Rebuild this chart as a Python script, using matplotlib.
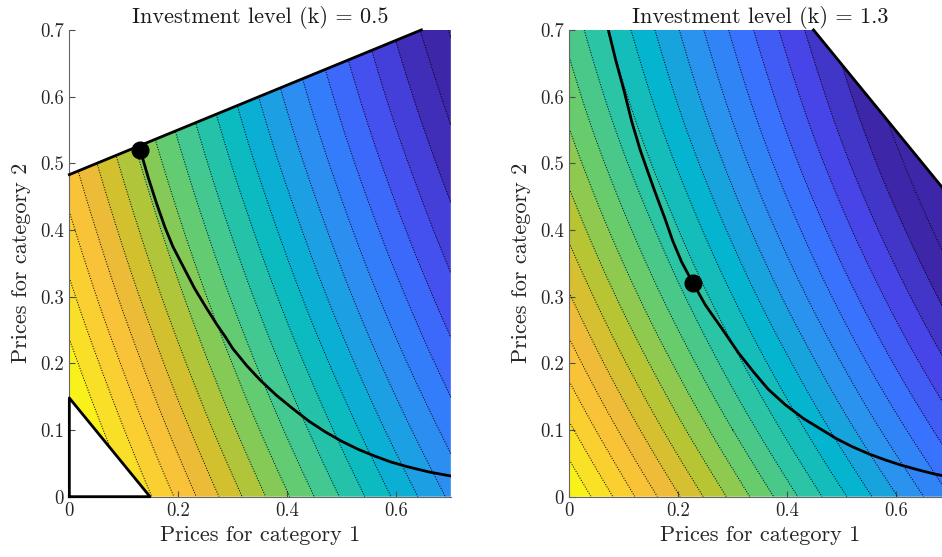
import numpy as np
import matplotlib
matplotlib.use("Agg")
import matplotlib.pyplot as plt
import matplotlib.tri as mtri
from matplotlib.colors import LinearSegmentedColormap
from matplotlib.patches import Polygon

# grid of prices (both categories)
grid_p = [0.0, 0.1, 0.2, 0.3, 0.4, 0.5, 0.6, 0.7]

# contour level index at grid nodes, rows = price 2, cols = price 1
z_k05 = [
    [-4.90, -2.30, 0.20, 2.60, 4.90, 7.10, 9.20, 11.20],
    [-3.62, -1.03, 1.47, 3.86, 6.15, 8.34, 10.43, 12.43],
    [-2.42, 0.16, 2.65, 5.03, 7.32, 9.50, 11.59, 13.57],
    [-1.30, 1.28, 3.75, 6.13, 8.41, 10.59, 12.66, 14.64],
    [-0.27, 2.30, 4.77, 7.14, 9.41, 11.58, 13.65, 15.62],
    [0.69, 3.25, 5.71, 8.08, 10.34, 12.50, 14.56, 16.52],
    [1.56, 4.11, 6.57, 8.92, 11.18, 13.33, 15.39, 17.34],
    [2.36, 4.91, 7.35, 9.70, 11.95, 14.09, 16.14, 18.09],
]
z_k13 = [
    [0.00, 2.50, 4.92, 7.28, 9.57, 11.80, 13.95, 16.03],
    [1.79, 4.27, 6.67, 9.00, 11.27, 13.48, 15.61, 17.67],
    [3.43, 5.89, 8.26, 10.58, 12.82, 15.01, 17.12, 19.15],
    [4.92, 7.35, 9.71, 12.00, 14.23, 16.39, 18.47, 20.49],
    [6.25, 8.66, 10.99, 13.27, 15.47, 17.61, 19.67, 21.66],
    [7.44, 9.83, 12.14, 14.39, 16.57, 18.69, 20.73, 22.70],
    [8.47, 10.84, 13.13, 15.35, 17.51, 19.61, 21.63, 23.58],
    [9.35, 11.70, 13.96, 16.17, 18.33, 20.43, 22.45, 24.27],
]

# feasible regions
feas_k05 = [(0.148, 0), (0.7, 0), (0.7, 0.7), (0.646, 0.7), (0, 0.483), (0, 0.148)]
feas_k13 = [(0, 0), (0.7, 0), (0.7, 0.448), (0.448, 0.7), (0, 0.7)]
# black boundary segments
bnd_k05 = [
    ([0, 0.148, 0, 0], [0, 0, 0.148, 0]),
    ([0, 0.646], [0.483, 0.7]),
]
bnd_k13 = [([0.448, 0.7], [0.7, 0.448])]

# optimal-response curves and chosen points
curve_k05_p1 = [0.13, 0.145, 0.16, 0.175, 0.19, 0.209, 0.23, 0.25, 0.27, 0.286, 0.30, 0.325,
                0.35, 0.38, 0.41, 0.44, 0.47, 0.50, 0.53, 0.56, 0.59, 0.62, 0.66, 0.70]
curve_k05_p2 = [0.52, 0.478, 0.44, 0.405, 0.375, 0.345, 0.312, 0.285, 0.259, 0.24, 0.222, 0.197,
                0.175, 0.152, 0.132, 0.113, 0.097, 0.083, 0.071, 0.061, 0.052, 0.045, 0.037, 0.031]
curve_k13_p1 = [0.0716, 0.085, 0.10, 0.1145, 0.13, 0.145, 0.157, 0.175, 0.19, 0.206, 0.2264,
                0.25, 0.28, 0.31, 0.338, 0.365, 0.396, 0.43, 0.458, 0.49, 0.519, 0.55, 0.58,
                0.61, 0.641, 0.67, 0.70]
curve_k13_p2 = [0.70, 0.655, 0.61, 0.5625, 0.52, 0.485, 0.4575, 0.418, 0.383, 0.352, 0.321,
                0.287, 0.252, 0.216, 0.187, 0.161, 0.138, 0.117, 0.103, 0.087, 0.075, 0.064,
                0.055, 0.047, 0.040, 0.034, 0.029]
dot_k05 = (0.13, 0.52)
dot_k13 = (0.2264, 0.321)

titles = ["Investment level (k) = 0.5", "Investment level (k) = 1.3"]

# parula colormap anchors, reversed (yellow = low level)
parula = [(0.2422, 0.1504, 0.6603), (0.2803, 0.2782, 0.9221), (0.2206, 0.4603, 0.9973),
          (0.1540, 0.5902, 0.9218), (0.0036, 0.7203, 0.7917), (0.1938, 0.7758, 0.6251),
          (0.4456, 0.8024, 0.3909), (0.7738, 0.7598, 0.1646), (0.9728, 0.7298, 0.2394),
          (0.9786, 0.8386, 0.1766), (0.9769, 0.9839, 0.0805)]
cmap = LinearSegmentedColormap.from_list("parula_r", parula[::-1])

plt.rcParams['font.family'] = 'cmr10'
plt.rcParams['mathtext.fontset'] = 'cm'
plt.rcParams['axes.formatter.use_mathtext'] = True

fig = plt.figure(figsize=(9.42, 5.57), dpi=100)
ax1 = fig.add_axes([0.0736, 0.1083, 0.405, 0.838])
ax2 = fig.add_axes([0.6044, 0.1083, 0.405, 0.838])

X, Y = np.meshgrid(grid_p, grid_p)
tri = mtri.Triangulation(X.ravel(), Y.ravel())
refiner = mtri.UniformTriRefiner(tri)

panels = [
    (ax1, z_k05, feas_k05, bnd_k05, curve_k05_p1, curve_k05_p2, dot_k05, np.arange(-5, 20), -3, 17),
    (ax2, z_k13, feas_k13, bnd_k13, curve_k13_p1, curve_k13_p2, dot_k13, np.arange(-1, 26), 0, 20.5),
]
for i, (ax, z, feas, bnd, cx, cy, dot, lev, vmin, vmax) in enumerate(panels):
    tri_f, z_f = refiner.refine_field(np.array(z).ravel(), subdiv=4)
    clip = Polygon(feas, closed=True, transform=ax.transData)
    cf = ax.tricontourf(tri_f, z_f, levels=lev, cmap=cmap, vmin=vmin, vmax=vmax)
    cf.set_clip_path(clip)
    cl = ax.tricontour(tri_f, z_f, levels=lev, colors='k', linestyles=':', linewidths=0.7)
    cl.set_clip_path(clip)
    for bx, by in bnd:
        ax.plot(bx, by, color='k', lw=2, zorder=3, clip_on=False)
    ax.plot(cx, cy, color='k', lw=2, zorder=3)
    ax.plot(dot[0], dot[1], 'o', color='k', ms=12, zorder=4)

    ax.set_xlim(0, 0.7)
    ax.set_ylim(0, 0.7)
    ax.set_xticks([0, 0.2, 0.4, 0.6])
    ax.set_xticklabels(['0', '0.2', '0.4', '0.6'])
    ax.set_yticks([0, 0.1, 0.2, 0.3, 0.4, 0.5, 0.6, 0.7])
    ax.set_yticklabels(['0', '0.1', '0.2', '0.3', '0.4', '0.5', '0.6', '0.7'])
    ax.tick_params(direction='in', length=4, width=0.8, color='0.3', labelsize=13.5,
                   labelcolor='0.15', pad=4)
    for s in ['top', 'right']:
        ax.spines[s].set_visible(False)
    for s in ['left', 'bottom']:
        ax.spines[s].set_color('0.4')
        ax.spines[s].set_linewidth(0.8)
    ax.set_xlabel('Prices for category 1', fontsize=16, color='0.15', labelpad=4)
    ax.set_ylabel('Prices for category 2', fontsize=16, color='0.15', labelpad=6)
    ax.set_title(titles[i], fontsize=16, color='0.1', pad=5)

fig.savefig('out.png', dpi=100)
